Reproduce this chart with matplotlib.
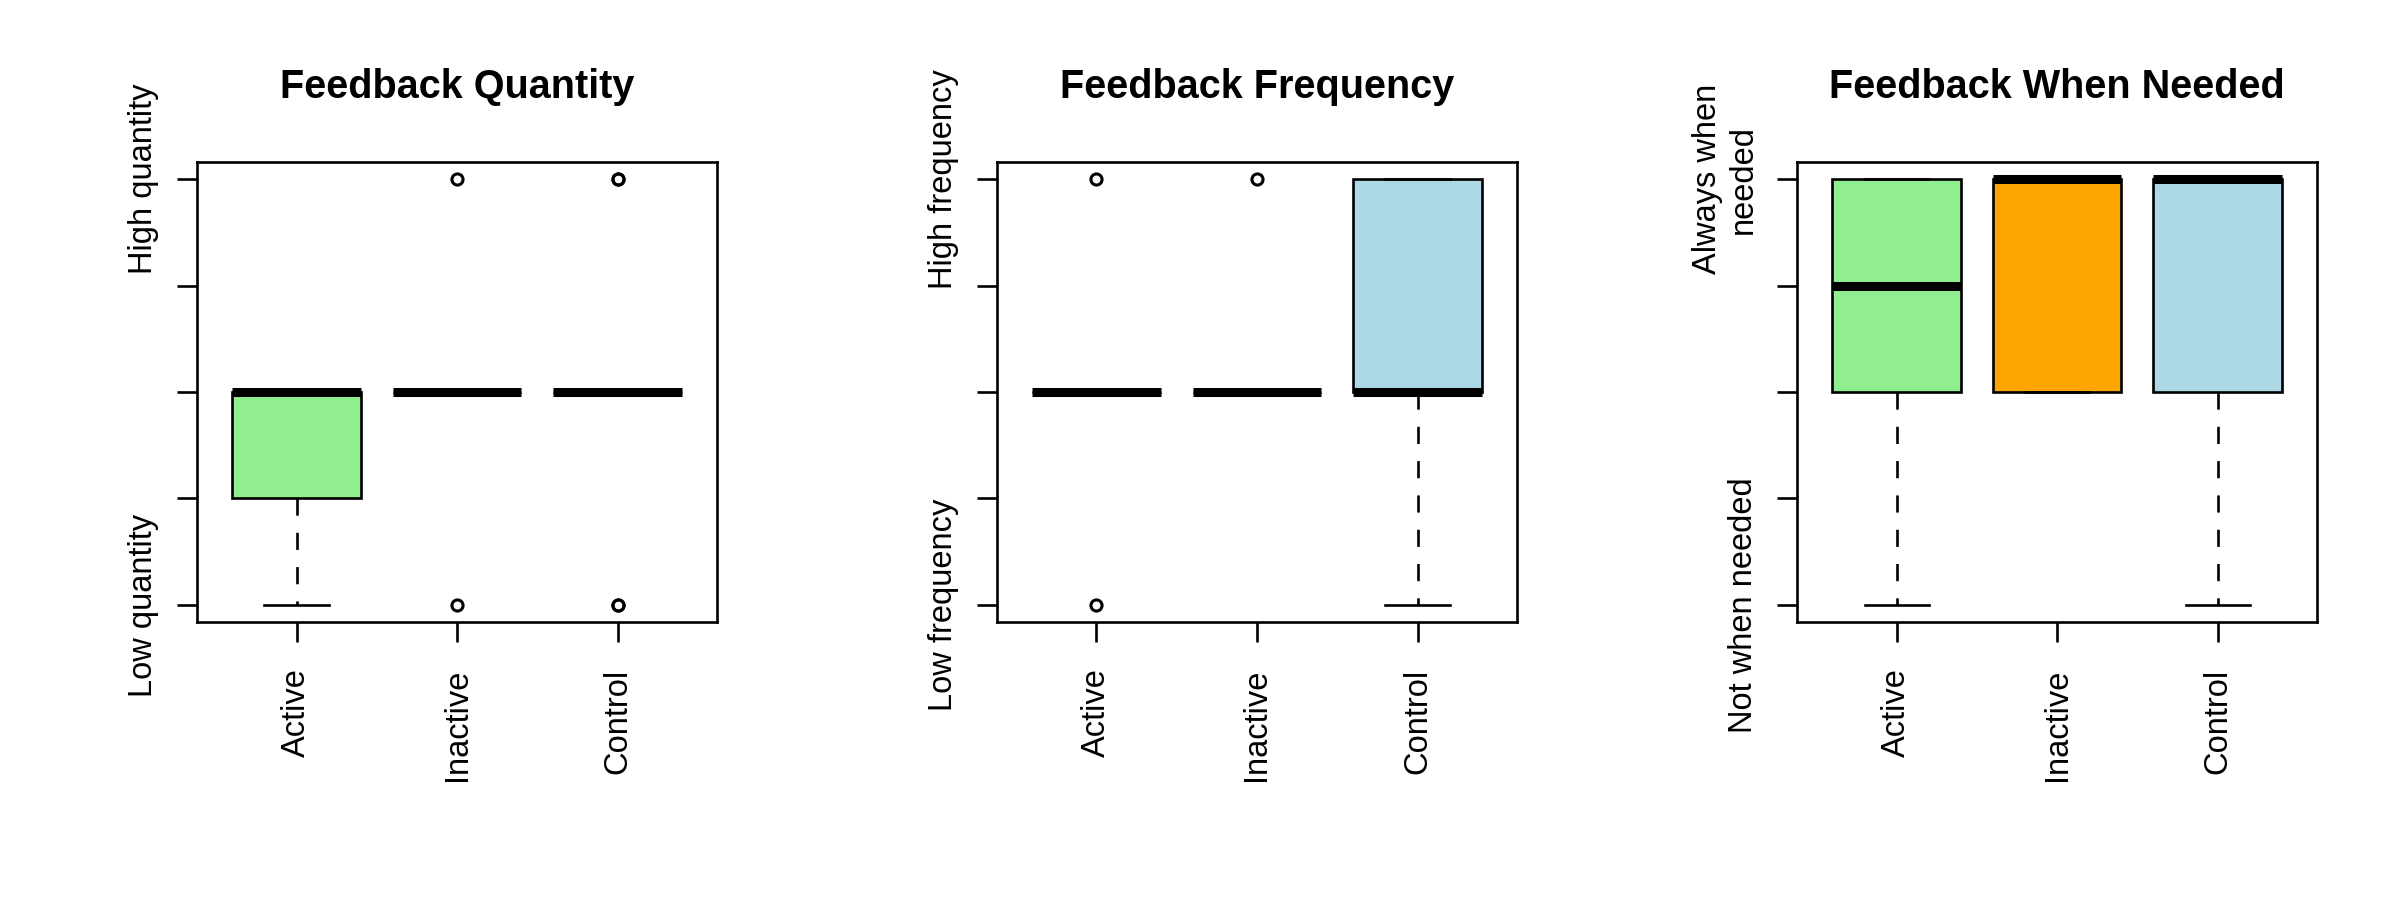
import matplotlib.pyplot as plt

plt.rcParams['font.family'] = ['Liberation Sans', 'DejaVu Sans']

groups = ['Active', 'Inactive', 'Control']
colors = ['lightgreen', 'orange', 'lightblue']

titles = ['Feedback Quantity', 'Feedback Frequency', 'Feedback When Needed']
low_labels = ['Low quantity', 'Low frequency', 'Not when needed']
high_labels = ['High quantity', 'High frequency', 'Always when\nneeded']

# (whisker low, q1, median, q3, whisker high) per group
quantity_stats = [(1, 2, 3, 3, 3), (3, 3, 3, 3, 3), (3, 3, 3, 3, 3)]
quantity_out = [[], [5, 1], [5, 5, 1, 1]]

frequency_stats = [(3, 3, 3, 3, 3), (3, 3, 3, 3, 3), (1, 3, 3, 5, 5)]
frequency_out = [[5, 1], [5], []]

needed_stats = [(1, 3, 4, 5, 5), (3, 3, 5, 5, 5), (1, 3, 5, 5, 5)]
needed_out = [[], [], []]

panels = [(quantity_stats, quantity_out),
          (frequency_stats, frequency_out),
          (needed_stats, needed_out)]

fig = plt.figure(figsize=(24, 9), dpi=100)
lefts = [0.0821, 0.4154, 0.7488]
lw = 1.9

for i, (stats, outs) in enumerate(panels):
    ax = fig.add_axes([lefts[i], 0.3089, 0.2167, 0.5111])
    bstats = []
    for (lo, q1, med, q3, hi), fl in zip(stats, outs):
        bstats.append({'whislo': lo, 'q1': q1, 'med': med, 'q3': q3,
                       'whishi': hi, 'fliers': fl})
    bp = ax.bxp(bstats, positions=[1, 2, 3], widths=0.8, capwidths=0.4,
                patch_artist=True, manage_ticks=False,
                boxprops=dict(edgecolor='black', linewidth=lw),
                whiskerprops=dict(color='black', linewidth=lw,
                                  linestyle=(0, (6.5, 6.5))),
                capprops=dict(color='black', linewidth=lw),
                medianprops=dict(color='black', linewidth=6.5,
                                 solid_capstyle='butt'),
                flierprops=dict(marker='o', markerfacecolor='none',
                                markeredgecolor='black', markersize=8,
                                markeredgewidth=2.2))
    for patch, c in zip(bp['boxes'], colors):
        patch.set_facecolor(c)

    ax.set_xlim(0.38, 3.62)
    ax.set_ylim(0.84, 5.16)
    ax.set_xticks([1, 2, 3], groups, rotation=90)
    ax.set_yticks([1, 2, 3, 4, 5],
                  [low_labels[i], '', '', '', high_labels[i]],
                  rotation=90, va='center', multialignment='center')
    ax.tick_params(axis='both', length=14.4, width=lw, labelsize=23.5)
    ax.tick_params(axis='x', pad=19)
    ax.tick_params(axis='y', pad=13)
    for s in ax.spines.values():
        s.set_linewidth(lw)
    ax.set_title(titles[i], fontsize=28.5, fontweight='bold', pad=46)

fig.savefig('out.png', dpi=100, facecolor='white')
